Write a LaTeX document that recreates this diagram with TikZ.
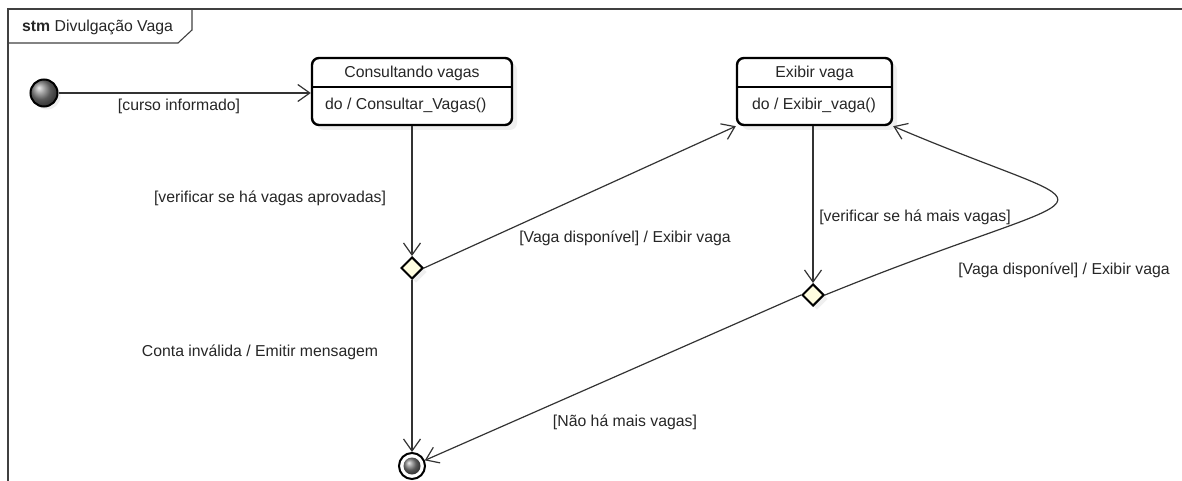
\documentclass[tikz,border=0pt]{standalone}
\usepackage{fontspec}
\setmainfont{Liberation Sans}
\usetikzlibrary{arrows.meta,shapes.geometric,shadows,positioning}

\begin{document}
\begin{tikzpicture}[x=1pt,y=-1pt,
    font=\fontsize{15.8}{18}\selectfont, text=black!85,
    frameline/.style={draw=black!75, line width=1.1pt},
    arr/.style={draw=black!80, line width=1.2pt, -{Straight Barb[length=12pt,width=17pt]}},
    statebox/.style={draw=black, line width=2.4pt, rounded corners=7pt, fill=white,
      minimum height=67pt, inner sep=0pt,
      drop shadow={shadow xshift=5pt, shadow yshift=-5pt, opacity=0.13}},
    choice/.style={diamond, draw=black, line width=2pt, fill=yellow!12,
      minimum width=22pt, minimum height=22pt, inner sep=0pt,
      drop shadow={shadow xshift=4pt, shadow yshift=-4pt, opacity=0.13}},
    startdot/.style={circle, draw=black, line width=2pt, minimum size=27pt, inner sep=0pt,
      shading=ball, ball color=black!50,
      drop shadow={shadow xshift=3pt, shadow yshift=-3pt, opacity=0.13}},
    enddot/.style={circle, draw=black, line width=2pt, minimum size=26pt, inner sep=0pt, fill=white},
    lbl/.style={inner sep=0pt}]
  \useasboundingbox (0,0) rectangle (1182,481);
  % frame with its tab
  \draw[frameline] (8,481) -- (8,9) -- (1182,9);
  \draw[frameline] (8,43) -- (178,43) -- (192,30) -- (192,9);
  \node[lbl, anchor=west] (title) at (22,27) {\textbf{stm} Divulgação Vaga};

  % states
  \node[startdot] (init) at (44,93) {};
  \node[statebox, minimum width=200pt] (cons) at (412,91.5) {};
  \draw[black, line width=1.2pt] (312,87) -- (512,87);
  \node[lbl] (consname) at (412,73) {Consultando vagas};
  \node[lbl, anchor=west] (consdo) at (325,105) {do / Consultar\_Vagas()};

  \node[statebox, minimum width=155pt] (exib) at (814.5,91.5) {};
  \draw[black, line width=1.2pt] (737,87) -- (892,87);
  \node[lbl] (exibname) at (814.5,73) {Exibir vaga};
  \node[lbl, anchor=west] (exibdo) at (752,105) {do / Exibir\_vaga()};

  \node[choice] (d1) at (412,268) {};
  \node[choice] (d2) at (813,295) {};

  \node[enddot] (fin) at (412,466) {};
  \shade[ball color=black!50] (fin.center) circle (8.5pt);

  % transitions
  \draw[arr] (init) -- (cons.west |- init);
  \draw[arr] (cons.south -| d1) -- (d1.north);
  \draw[arr] (d1.east) -- (exib.south west);
  \draw[arr] (d1.south) -- (fin.north);
  \draw[arr] (exib.south -| d2) -- (d2.north);
  \draw[arr] (d2.east) .. controls (1120,175) and (1125,225) .. (exib.south east);
  \draw[arr] (d2.west) -- (fin);

  % guards and effects
  \node[lbl] (g1) at (179,106) {[curso informado]};
  \node[lbl] (g2) at (270,198) {[verificar se há vagas aprovadas]};
  \node[lbl] (g3) at (625,238) {[Vaga disponível] / Exibir vaga};
  \node[lbl] (g4) at (260,352) {Conta inválida / Emitir mensagem};
  \node[lbl] (g5) at (915,217) {[verificar se há mais vagas]};
  \node[lbl] (g6) at (1064,270) {[Vaga disponível] / Exibir vaga};
  \node[lbl] (g7) at (625,422) {[Não há mais vagas]};
\end{tikzpicture}
\end{document}
